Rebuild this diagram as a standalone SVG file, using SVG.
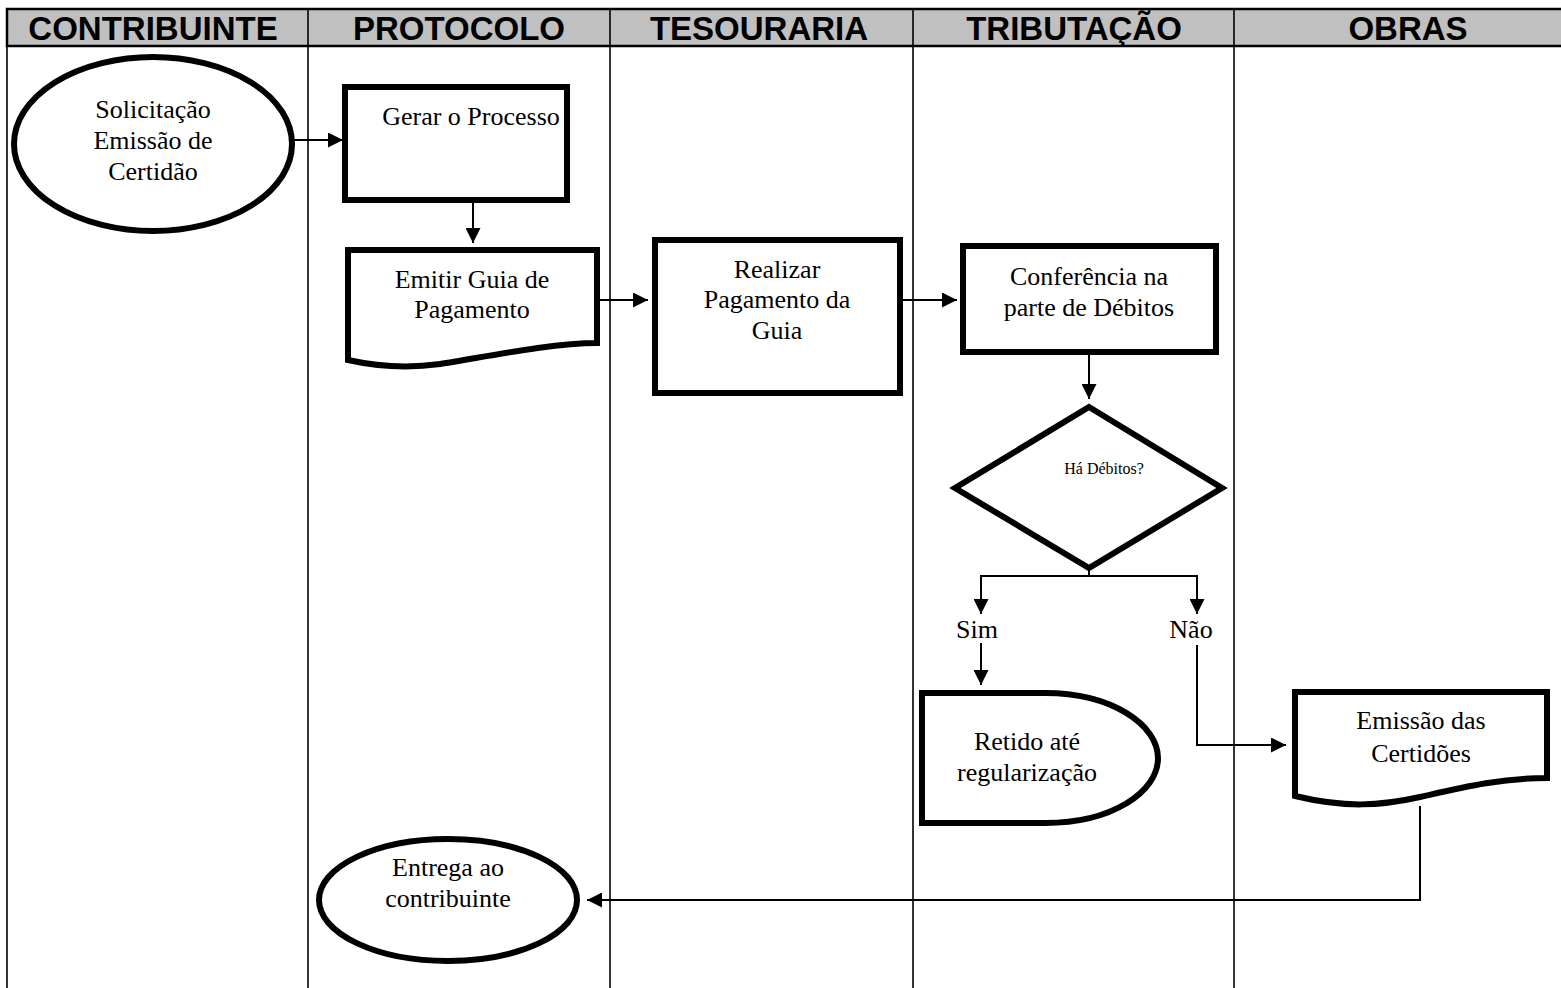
<svg xmlns="http://www.w3.org/2000/svg" width="1561" height="988" viewBox="0 0 1561 988">
  <style>
    .lane { stroke: #000; stroke-width: 1.6; fill: none; }
    .head { font-family: "Liberation Sans", Arial, sans-serif; font-weight: bold; font-size: 33px; fill: #000; text-anchor: middle; }
    .shape { fill: #fff; stroke: #000; stroke-width: 6; }
    .lbl { font-family: "Liberation Serif", "Times New Roman", serif; font-size: 26px; fill: #000; text-anchor: middle; }
    .small { font-family: "Liberation Serif", "Times New Roman", serif; font-size: 16px; fill: #000; text-anchor: middle; }
    .edge { stroke: #000; stroke-width: 2; fill: none; }
  </style>
  <defs>
    <marker id="arrow" viewBox="0 0 10 10" refX="10" refY="5" markerWidth="16" markerHeight="15" markerUnits="userSpaceOnUse" orient="auto">
      <path d="M0,0 L10,5 L0,10 Z" fill="#000"/>
    </marker>
  </defs>

  <rect width="1561" height="988" fill="#fff"/>

  <!-- swimlane header and dividers -->
  <g id="lanes">
    <rect x="7" y="9" width="1570" height="37" fill="#c0c0c0" stroke="#000" stroke-width="2.5"/>
    <line class="lane" x1="7" y1="9" x2="7" y2="988"/>
    <line class="lane" x1="308" y1="9" x2="308" y2="988"/>
    <line class="lane" x1="610" y1="9" x2="610" y2="988"/>
    <line class="lane" x1="913" y1="9" x2="913" y2="988"/>
    <line class="lane" x1="1234" y1="9" x2="1234" y2="988"/>
    <text class="head" x="153" y="40">CONTRIBUINTE</text>
    <text class="head" x="459" y="40">PROTOCOLO</text>
    <text class="head" x="759" y="40">TESOURARIA</text>
    <text class="head" x="1074" y="40">TRIBUTAÇÃO</text>
    <text class="head" x="1408" y="40">OBRAS</text>
  </g>

  <!-- connectors -->
  <g id="connectors">
    <line class="edge" x1="293" y1="140" x2="343" y2="140" marker-end="url(#arrow)"/>
    <line class="edge" x1="473" y1="202" x2="473" y2="243" marker-end="url(#arrow)"/>
    <line class="edge" x1="597" y1="300" x2="648" y2="300" marker-end="url(#arrow)"/>
    <line class="edge" x1="903" y1="300" x2="957" y2="300" marker-end="url(#arrow)"/>
    <line class="edge" x1="1089" y1="355" x2="1089" y2="399" marker-end="url(#arrow)"/>
    <path class="edge" d="M1089,568 V576"/>
    <path class="edge" d="M981,600 V576 H1197 V600"/>
    <line class="edge" x1="981" y1="590" x2="981" y2="614" marker-end="url(#arrow)"/>
    <line class="edge" x1="1197" y1="590" x2="1197" y2="614" marker-end="url(#arrow)"/>
    <line class="edge" x1="981" y1="643" x2="981" y2="685" marker-end="url(#arrow)"/>
    <path class="edge" d="M1197,645 V745 H1286" stroke-width="1.6" marker-end="url(#arrow)"/>
    <path class="edge" d="M1420,806 V900 H587" stroke-width="2.5" marker-end="url(#arrow)"/>
    <text class="lbl" x="977" y="638">Sim</text>
    <text class="lbl" x="1191" y="638">Não</text>
  </g>

  <g id="solicitacao">
    <ellipse class="shape" cx="153" cy="144" rx="139" ry="87"/>
    <text class="lbl" x="153" y="118">Solicitação</text>
    <text class="lbl" x="153" y="149">Emissão de</text>
    <text class="lbl" x="153" y="180">Certidão</text>
  </g>

  <g id="gerar-processo">
    <rect class="shape" x="345" y="87" width="222" height="113"/>
    <text class="lbl" x="471" y="125">Gerar o Processo</text>
  </g>

  <g id="emitir-guia">
    <path class="shape" d="M348,250 H597 V343 C550,343 480,358 440,364 C405,369 375,366 348,360 Z"/>
    <text class="lbl" x="472" y="288">Emitir Guia de</text>
    <text class="lbl" x="472" y="318">Pagamento</text>
  </g>

  <g id="realizar-pagamento">
    <rect class="shape" x="655" y="240" width="245" height="153"/>
    <text class="lbl" x="777" y="278">Realizar</text>
    <text class="lbl" x="777" y="308">Pagamento da</text>
    <text class="lbl" x="777" y="339">Guia</text>
  </g>

  <g id="conferencia">
    <rect class="shape" x="963" y="246" width="253" height="106"/>
    <text class="lbl" x="1089" y="285">Conferência na</text>
    <text class="lbl" x="1089" y="316">parte de Débitos</text>
  </g>

  <g id="ha-debitos">
    <polygon class="shape" points="1089,407 1222,488 1089,568 955,488"/>
    <text class="small" x="1104" y="474">Há Débitos?</text>
  </g>

  <g id="retido">
    <path class="shape" d="M922,693 H1045 C1112,693 1158,725 1158,758 C1158,792 1112,823 1045,823 H922 Z"/>
    <text class="lbl" x="1027" y="750">Retido até</text>
    <text class="lbl" x="1027" y="781">regularização</text>
  </g>

  <g id="emissao-certidoes">
    <path class="shape" d="M1295,692 H1547 V778 C1500,778 1460,788 1420,797 C1380,806 1345,808 1295,796 Z"/>
    <text class="lbl" x="1421" y="729">Emissão das</text>
    <text class="lbl" x="1421" y="762">Certidões</text>
  </g>

  <g id="entrega">
    <ellipse class="shape" cx="448" cy="900" rx="129" ry="61"/>
    <text class="lbl" x="448" y="876">Entrega ao</text>
    <text class="lbl" x="448" y="907">contribuinte</text>
  </g>
</svg>
